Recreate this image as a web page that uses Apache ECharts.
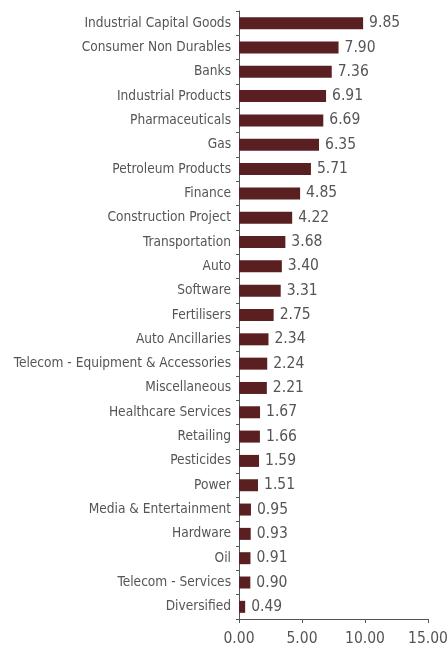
<!DOCTYPE html>
<html>
<head>
<meta charset="utf-8">
<script src="https://cdn.jsdelivr.net/npm/echarts@6/dist/echarts.min.js"></script>
<style>
  html, body { margin: 0; padding: 0; background: #ffffff; }
  #chart { width: 448px; height: 649px; }
</style>
</head>
<body>
<div id="chart"></div>
<script>
// Sector allocation (% of net assets), largest first
const sectors = [
  'Industrial Capital Goods', 'Consumer Non Durables', 'Banks', 'Industrial Products',
  'Pharmaceuticals', 'Gas', 'Petroleum Products', 'Finance', 'Construction Project',
  'Transportation', 'Auto', 'Software', 'Fertilisers', 'Auto Ancillaries',
  'Telecom - Equipment & Accessories', 'Miscellaneous', 'Healthcare Services',
  'Retailing', 'Pesticides', 'Power', 'Media & Entertainment', 'Hardware', 'Oil',
  'Telecom - Services', 'Diversified'
];
const weights = [
  9.85, 7.90, 7.36, 6.91, 6.69, 6.35, 5.71, 4.85, 4.22, 3.68, 3.40, 3.31, 2.75,
  2.34, 2.24, 2.21, 1.67, 1.66, 1.59, 1.51, 0.95, 0.93, 0.91, 0.90, 0.49
];
const xTicks = { min: 0, max: 15, step: 5 };

const font = "'DejaVu Sans Condensed', 'Liberation Sans Narrow', sans-serif";
const textColor = '#555555';
const axisColor = '#555555';

const chart = echarts.init(document.getElementById('chart'), null, { renderer: 'canvas' });
chart.setOption({
  animation: false,
  backgroundColor: '#ffffff',
  grid: { left: 239, right: 20, top: 11, bottom: 30, containLabel: false, outerBoundsMode: 'none' },
  xAxis: {
    type: 'value',
    min: xTicks.min,
    max: xTicks.max,
    interval: xTicks.step,
    axisLine: { show: true, lineStyle: { color: axisColor, width: 1 } },
    axisTick: { show: true, inside: false, length: 4, lineStyle: { color: axisColor } },
    splitLine: { show: false },
    axisLabel: {
      color: textColor, fontFamily: font, fontSize: 15.5, margin: 12,
      formatter: v => v.toFixed(2)
    }
  },
  yAxis: {
    type: 'category',
    data: sectors,
    inverse: true,
    axisLine: { show: true, lineStyle: { color: axisColor, width: 1 } },
    axisTick: { show: true, inside: false, length: 3, lineStyle: { color: axisColor } },
    axisLabel: { color: textColor, fontFamily: font, fontSize: 13.6, margin: 8 }
  },
  series: [{
    type: 'bar',
    data: weights,
    barWidth: 12,
    itemStyle: { color: '#5a1f21' },
    label: {
      show: true,
      position: 'right',
      distance: 6,
      color: textColor,
      fontFamily: font,
      fontSize: 15.5,
      formatter: p => p.value.toFixed(2)
    }
  }]
});
</script>
</body>
</html>
